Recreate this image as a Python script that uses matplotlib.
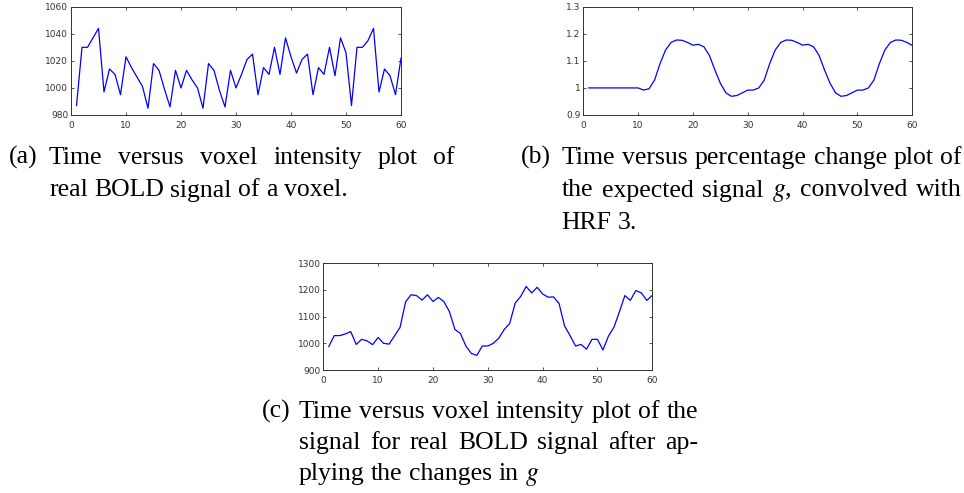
import numpy as np
import matplotlib
matplotlib.use("Agg")
import matplotlib.pyplot as plt

plt.rcParams['mathtext.fontset'] = 'stix'

# time axis (scans)
t = np.arange(1, 61)

# (a) raw BOLD signal of one voxel
bold_raw = [987, 1030, 1030, 1037, 1044, 997, 1014, 1010, 995, 1023,
            1015, 1008, 1001, 985, 1018, 1013, 999, 986, 1013, 1000,
            1013, 1006, 1000, 985, 1018, 1013, 998, 986, 1013, 1000,
            1010, 1021, 1025, 995, 1015, 1010, 1030, 1010, 1037, 1023,
            1011, 1021, 1025, 995, 1015, 1010, 1030, 1009, 1037, 1026,
            987, 1030, 1030, 1035, 1044, 997, 1014, 1009, 995, 1022]

# (b) expected signal g convolved with HRF 3 (percentage change)
expected_g = [1.0, 1.0, 1.0, 1.0, 1.0, 1.0, 1.0, 1.0, 1.0, 1.0,
              0.992, 0.997, 1.029, 1.09, 1.14, 1.168, 1.177, 1.176, 1.168, 1.158,
              1.161, 1.152, 1.12, 1.066, 1.017, 0.982, 0.969, 0.972, 0.982, 0.992,
              0.992, 1.0, 1.029, 1.09, 1.14, 1.168, 1.177, 1.176, 1.168, 1.158,
              1.161, 1.152, 1.12, 1.066, 1.017, 0.982, 0.969, 0.972, 0.982, 0.992,
              0.992, 1.0, 1.029, 1.09, 1.14, 1.168, 1.177, 1.176, 1.168, 1.157]

# (c) real BOLD signal after applying g
bold_mod = [988, 1029, 1029, 1035, 1044, 996, 1015, 1009, 995, 1022,
            1000, 997, 1028, 1060, 1155, 1182, 1179, 1162, 1182, 1157,
            1172, 1156, 1119, 1052, 1037, 990, 962, 955, 990, 990,
            1000, 1019, 1052, 1075, 1151, 1176, 1213, 1189, 1210, 1185,
            1173, 1174, 1149, 1065, 1029, 990, 996, 978, 1015, 1015,
            975, 1027, 1060, 1118, 1179, 1161, 1198, 1189, 1161, 1180]

x_ticks = [0, 10, 20, 30, 40, 50, 60]
a_yticks = [980, 1000, 1020, 1040, 1060]
b_yticks = [0.9, 1.0, 1.1, 1.2, 1.3]
b_yticklabels = ['0.9', '1', '1.1', '1.2', '1.3']
c_yticks = [900, 1000, 1100, 1200, 1300]

W, H = 964, 493
fig = plt.figure(figsize=(W / 100, H / 100), dpi=100)


def add_ax(left, right, top, bottom):
    return fig.add_axes([left / W, 1 - bottom / H, (right - left) / W, (bottom - top) / H])


def matlab_style(ax, yticks, ylabels=None):
    ax.set_xlim(0, 60)
    ax.set_xticks(x_ticks)
    ax.set_ylim(yticks[0], yticks[-1])
    ax.set_yticks(yticks)
    if ylabels is not None:
        ax.set_yticklabels(ylabels)
    ax.tick_params(direction='in', length=2.5, width=0.6, top=True, right=True,
                   labelsize=6.5, colors='#333333')
    ax.tick_params(axis='x', pad=4)
    ax.tick_params(axis='y', pad=2)
    for s in ax.spines.values():
        s.set_linewidth(0.7)
        s.set_color('#333333')


ax_a = add_ax(71, 401, 6.7, 115)
ax_a.plot(t, bold_raw, color='blue', lw=0.9)
matlab_style(ax_a, a_yticks)

ax_b = add_ax(583.3, 912.3, 6.7, 115)
ax_b.plot(t, expected_g, color='blue', lw=0.9)
matlab_style(ax_b, b_yticks, b_yticklabels)

ax_c = add_ax(323.3, 652.3, 263.3, 370)
ax_c.plot(t, bold_mod, color='blue', lw=0.9)
matlab_style(ax_c, c_yticks)

# captions, set like a typeset paper (justified lines)
CAP_FS = 18.5
renderer = fig.canvas.get_renderer()


def caption_line(text, x0, y, x1=None):
    words = text.split(' ')
    arts = [fig.text(0, 1 - y / H, w, fontsize=CAP_FS, family='Liberation Serif',
                     va='baseline', ha='left') for w in words]
    widths = [a.get_window_extent(renderer).width for a in arts]
    if x1 is None or len(words) == 1:
        gap = CAP_FS * 100 / 72 * 0.25
    else:
        gap = (x1 - x0 - sum(widths)) / (len(words) - 1)
    x = x0
    for a, w in zip(arts, widths):
        a.set_x(x / W)
        x += w + gap


caption_line('(a)', 9, 164)
caption_line('Time versus voxel intensity plot of', 49, 164, 455)
caption_line('real BOLD signal of a voxel.', 49, 196.5)

caption_line('(b)', 520.7, 164)
caption_line('Time versus percentage change plot of', 561.7, 164, 962)
caption_line('the expected signal $g$, convolved with', 561.7, 196.5, 962)
caption_line('HRF 3.', 561.7, 229)

caption_line('(c)', 262, 418)
caption_line('Time versus voxel intensity plot of the', 299, 418, 698)
caption_line('signal for real BOLD signal after ap-', 299, 449, 698)
caption_line('plying the changes in $g$', 299, 480)

fig.savefig('out.png', dpi=100)
